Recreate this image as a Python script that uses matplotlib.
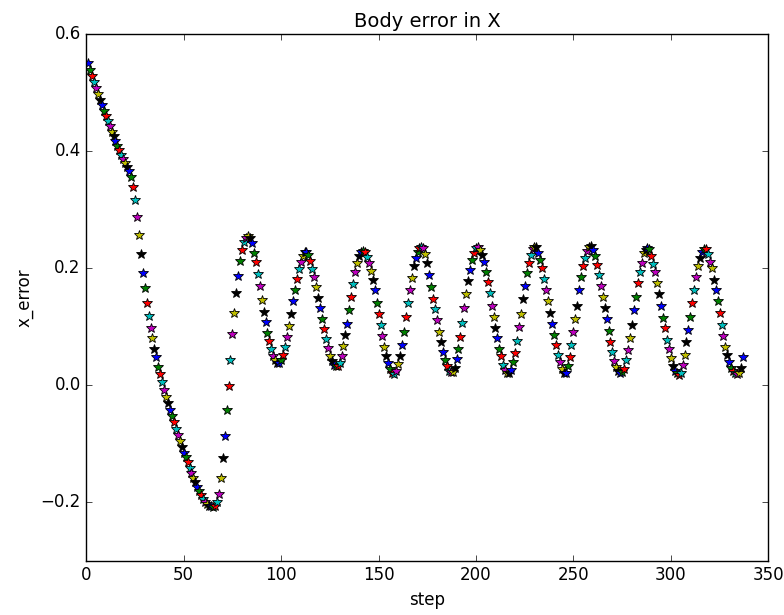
import matplotlib
matplotlib.use("Agg")
import matplotlib.pyplot as plt

plt.style.use("classic")
plt.rcParams["figure.facecolor"] = "white"
plt.rcParams["savefig.facecolor"] = "white"

# x_error, one value per step (step starts at 1)
descent = [
    0.551, 0.539, 0.528, 0.518, 0.507, 0.497, 0.487, 0.478, 0.469, 0.460,
    0.451, 0.442, 0.433, 0.425, 0.417, 0.409, 0.401, 0.393, 0.386, 0.379,
    0.372, 0.366, 0.356, 0.338, 0.316, 0.287, 0.256, 0.224, 0.191, 0.166,
    0.140, 0.118, 0.097, 0.080, 0.062, 0.048, 0.031, 0.019, 0.005, -0.009,
    -0.021, -0.031, -0.043, -0.053, -0.063, -0.074, -0.085, -0.096, -0.106, -0.115,
    -0.123, -0.132, -0.142, -0.150, -0.159, -0.166, -0.173, -0.180, -0.188, -0.195,
    -0.200, -0.203, -0.206, -0.207, -0.208, -0.207,
]
recovery = [
    -0.199, -0.185, -0.159, -0.125, -0.087, -0.043, -0.002, 0.043, 0.087, 0.123,
    0.157, 0.186, 0.212, 0.231, 0.244, 0.251, 0.254, 0.252,
]
oscillation = [
    # 85-99
    0.243, 0.226, 0.210, 0.190, 0.169, 0.146, 0.125, 0.108, 0.089, 0.075,
    0.062, 0.050, 0.043, 0.038, 0.038,
    # 100-114
    0.043, 0.052, 0.066, 0.083, 0.101, 0.121, 0.143, 0.163, 0.182, 0.198,
    0.211, 0.221, 0.227, 0.228, 0.223,
    # 115-129
    0.212, 0.199, 0.184, 0.167, 0.149, 0.132, 0.113, 0.096, 0.079, 0.064,
    0.050, 0.041, 0.035, 0.032, 0.033,
    # 130-143
    0.038, 0.050, 0.067, 0.085, 0.105, 0.129, 0.150, 0.173, 0.193, 0.209,
    0.220, 0.227, 0.230, 0.227,
    # 144-158
    0.219, 0.208, 0.195, 0.180, 0.162, 0.140, 0.121, 0.102, 0.084, 0.066,
    0.050, 0.038, 0.027, 0.020, 0.019,
    # 159-173
    0.025, 0.036, 0.050, 0.069, 0.091, 0.116, 0.140, 0.163, 0.183, 0.203,
    0.218, 0.228, 0.234, 0.236, 0.234,
    # 174-188
    0.224, 0.208, 0.189, 0.168, 0.148, 0.130, 0.112, 0.090, 0.073, 0.056,
    0.043, 0.032, 0.025, 0.022, 0.022,
    # 189-203
    0.030, 0.045, 0.062, 0.083, 0.107, 0.132, 0.156, 0.178, 0.197, 0.213,
    0.226, 0.234, 0.236, 0.231, 0.223,
    # 204-218
    0.210, 0.194, 0.176, 0.157, 0.136, 0.117, 0.097, 0.080, 0.062, 0.049,
    0.035, 0.026, 0.021, 0.021, 0.026,
    # 219-233
    0.040, 0.055, 0.076, 0.100, 0.121, 0.147, 0.169, 0.191, 0.209, 0.222,
    0.233, 0.236, 0.236, 0.226, 0.214,
    # 234-248
    0.200, 0.182, 0.163, 0.144, 0.123, 0.104, 0.086, 0.068, 0.052, 0.040,
    0.028, 0.021, 0.020, 0.032, 0.048,
    # 249-263
    0.068, 0.090, 0.113, 0.136, 0.162, 0.184, 0.203, 0.218, 0.230, 0.236,
    0.237, 0.231, 0.220, 0.206, 0.189,
    # 264-278
    0.170, 0.150, 0.131, 0.113, 0.092, 0.074, 0.057, 0.041, 0.031, 0.024,
    0.021, 0.022, 0.028, 0.043, 0.060,
    # 279-293
    0.081, 0.102, 0.128, 0.151, 0.175, 0.193, 0.209, 0.225, 0.231, 0.234,
    0.233, 0.221, 0.207, 0.193, 0.175,
    # 294-308
    0.155, 0.136, 0.115, 0.097, 0.078, 0.061, 0.047, 0.032, 0.024, 0.020,
    0.018, 0.020, 0.035, 0.052, 0.073,
    # 309-323
    0.094, 0.116, 0.141, 0.163, 0.185, 0.204, 0.217, 0.228, 0.232, 0.232,
    0.224, 0.211, 0.200, 0.180, 0.162,
    # 324-337
    0.143, 0.123, 0.103, 0.084, 0.066, 0.052, 0.040, 0.030, 0.024, 0.020,
    0.019, 0.021, 0.030, 0.048,
]

x_error = descent + recovery + oscillation
steps = list(range(1, len(x_error) + 1))

fig = plt.figure(figsize=(7.84, 6.15), dpi=100)
ax = fig.add_subplot()
fig.subplots_adjust(left=0.11, right=0.98, top=0.945, bottom=0.088)

# one call per point, like the original loop, so colours cycle b g r c m y k
for s, e in zip(steps, x_error):
    ax.plot(s, e, "*", markersize=7, markeredgecolor="k", markeredgewidth=0.6)

ax.set_xlim(0, 350)
ax.set_ylim(-0.3, 0.6)
ax.set_xticks(range(0, 351, 50))
ax.set_yticks([-0.2, 0.0, 0.2, 0.4, 0.6])
ax.tick_params(labelsize=12)
ax.set_title("Body error in X", fontsize=14)
ax.set_xlabel("step", fontsize=12)
ax.set_ylabel("x_error", fontsize=12)

fig.savefig("out.png", dpi=100)
